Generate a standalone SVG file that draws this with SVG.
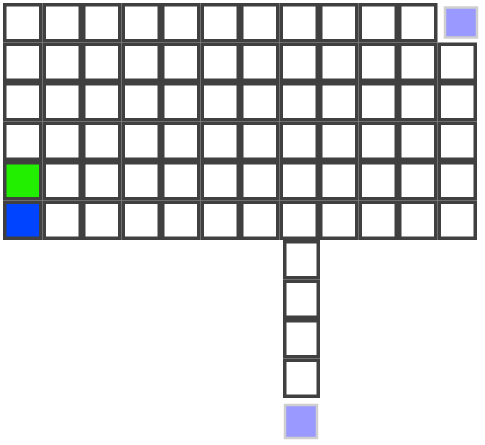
<svg xmlns="http://www.w3.org/2000/svg" width="485" height="445" viewBox="0 0 485 445">
<style>
.c{fill:#ffffff;stroke:#404040;stroke-width:3.5}
.g{fill:#22ee00;stroke:#404040;stroke-width:3.5}
.b{fill:#0044ff;stroke:#404040;stroke-width:3.5}
.lb{fill:#9999ff;stroke:#cfcfcf;stroke-width:2.5}
</style>
<defs>
<rect id="cell" width="36" height="36"/>
</defs>
<rect width="485" height="445" fill="#ffffff"/>
<g id="grid">
<g id="r0">
<g id="c0_0"><rect class="c" x="4.75" y="4.75" width="36" height="36"/></g>
<g id="c0_1"><rect class="c" x="44.25" y="4.75" width="36" height="36"/></g>
<g id="c0_2"><rect class="c" x="83.75" y="4.75" width="36" height="36"/></g>
<g id="c0_3"><rect class="c" x="123.25" y="4.75" width="36" height="36"/></g>
<g id="c0_4"><rect class="c" x="162.75" y="4.75" width="36" height="36"/></g>
<g id="c0_5"><rect class="c" x="202.25" y="4.75" width="36" height="36"/></g>
<g id="c0_6"><rect class="c" x="241.75" y="4.75" width="36" height="36"/></g>
<g id="c0_7"><rect class="c" x="281.25" y="4.75" width="36" height="36"/></g>
<g id="c0_8"><rect class="c" x="320.75" y="4.75" width="36" height="36"/></g>
<g id="c0_9"><rect class="c" x="360.25" y="4.75" width="36" height="36"/></g>
<g id="c0_10"><rect class="c" x="399.75" y="4.75" width="36" height="36"/></g>
<g id="c0_11"><rect class="lb" x="445" y="7.5" width="32" height="30"/></g>
</g>
<g id="r1">
<g id="c1_0"><rect class="c" x="4.75" y="44.25" width="36" height="36"/></g>
<g id="c1_1"><rect class="c" x="44.25" y="44.25" width="36" height="36"/></g>
<g id="c1_2"><rect class="c" x="83.75" y="44.25" width="36" height="36"/></g>
<g id="c1_3"><rect class="c" x="123.25" y="44.25" width="36" height="36"/></g>
<g id="c1_4"><rect class="c" x="162.75" y="44.25" width="36" height="36"/></g>
<g id="c1_5"><rect class="c" x="202.25" y="44.25" width="36" height="36"/></g>
<g id="c1_6"><rect class="c" x="241.75" y="44.25" width="36" height="36"/></g>
<g id="c1_7"><rect class="c" x="281.25" y="44.25" width="36" height="36"/></g>
<g id="c1_8"><rect class="c" x="320.75" y="44.25" width="36" height="36"/></g>
<g id="c1_9"><rect class="c" x="360.25" y="44.25" width="36" height="36"/></g>
<g id="c1_10"><rect class="c" x="399.75" y="44.25" width="36" height="36"/></g>
<g id="c1_11"><rect class="c" x="439.25" y="44.25" width="36" height="36"/></g>
</g>
<g id="r2">
<g id="c2_0"><rect class="c" x="4.75" y="83.75" width="36" height="36"/></g>
<g id="c2_1"><rect class="c" x="44.25" y="83.75" width="36" height="36"/></g>
<g id="c2_2"><rect class="c" x="83.75" y="83.75" width="36" height="36"/></g>
<g id="c2_3"><rect class="c" x="123.25" y="83.75" width="36" height="36"/></g>
<g id="c2_4"><rect class="c" x="162.75" y="83.75" width="36" height="36"/></g>
<g id="c2_5"><rect class="c" x="202.25" y="83.75" width="36" height="36"/></g>
<g id="c2_6"><rect class="c" x="241.75" y="83.75" width="36" height="36"/></g>
<g id="c2_7"><rect class="c" x="281.25" y="83.75" width="36" height="36"/></g>
<g id="c2_8"><rect class="c" x="320.75" y="83.75" width="36" height="36"/></g>
<g id="c2_9"><rect class="c" x="360.25" y="83.75" width="36" height="36"/></g>
<g id="c2_10"><rect class="c" x="399.75" y="83.75" width="36" height="36"/></g>
<g id="c2_11"><rect class="c" x="439.25" y="83.75" width="36" height="36"/></g>
</g>
<g id="r3">
<g id="c3_0"><rect class="c" x="4.75" y="123.25" width="36" height="36"/></g>
<g id="c3_1"><rect class="c" x="44.25" y="123.25" width="36" height="36"/></g>
<g id="c3_2"><rect class="c" x="83.75" y="123.25" width="36" height="36"/></g>
<g id="c3_3"><rect class="c" x="123.25" y="123.25" width="36" height="36"/></g>
<g id="c3_4"><rect class="c" x="162.75" y="123.25" width="36" height="36"/></g>
<g id="c3_5"><rect class="c" x="202.25" y="123.25" width="36" height="36"/></g>
<g id="c3_6"><rect class="c" x="241.75" y="123.25" width="36" height="36"/></g>
<g id="c3_7"><rect class="c" x="281.25" y="123.25" width="36" height="36"/></g>
<g id="c3_8"><rect class="c" x="320.75" y="123.25" width="36" height="36"/></g>
<g id="c3_9"><rect class="c" x="360.25" y="123.25" width="36" height="36"/></g>
<g id="c3_10"><rect class="c" x="399.75" y="123.25" width="36" height="36"/></g>
<g id="c3_11"><rect class="c" x="439.25" y="123.25" width="36" height="36"/></g>
</g>
<g id="r4">
<g id="c4_0"><rect class="g" x="4.75" y="162.75" width="36" height="36"/></g>
<g id="c4_1"><rect class="c" x="44.25" y="162.75" width="36" height="36"/></g>
<g id="c4_2"><rect class="c" x="83.75" y="162.75" width="36" height="36"/></g>
<g id="c4_3"><rect class="c" x="123.25" y="162.75" width="36" height="36"/></g>
<g id="c4_4"><rect class="c" x="162.75" y="162.75" width="36" height="36"/></g>
<g id="c4_5"><rect class="c" x="202.25" y="162.75" width="36" height="36"/></g>
<g id="c4_6"><rect class="c" x="241.75" y="162.75" width="36" height="36"/></g>
<g id="c4_7"><rect class="c" x="281.25" y="162.75" width="36" height="36"/></g>
<g id="c4_8"><rect class="c" x="320.75" y="162.75" width="36" height="36"/></g>
<g id="c4_9"><rect class="c" x="360.25" y="162.75" width="36" height="36"/></g>
<g id="c4_10"><rect class="c" x="399.75" y="162.75" width="36" height="36"/></g>
<g id="c4_11"><rect class="c" x="439.25" y="162.75" width="36" height="36"/></g>
</g>
<g id="r5">
<g id="c5_0"><rect class="b" x="4.75" y="202.25" width="36" height="36"/></g>
<g id="c5_1"><rect class="c" x="44.25" y="202.25" width="36" height="36"/></g>
<g id="c5_2"><rect class="c" x="83.75" y="202.25" width="36" height="36"/></g>
<g id="c5_3"><rect class="c" x="123.25" y="202.25" width="36" height="36"/></g>
<g id="c5_4"><rect class="c" x="162.75" y="202.25" width="36" height="36"/></g>
<g id="c5_5"><rect class="c" x="202.25" y="202.25" width="36" height="36"/></g>
<g id="c5_6"><rect class="c" x="241.75" y="202.25" width="36" height="36"/></g>
<g id="c5_7"><rect class="c" x="281.25" y="202.25" width="36" height="36"/></g>
<g id="c5_8"><rect class="c" x="320.75" y="202.25" width="36" height="36"/></g>
<g id="c5_9"><rect class="c" x="360.25" y="202.25" width="36" height="36"/></g>
<g id="c5_10"><rect class="c" x="399.75" y="202.25" width="36" height="36"/></g>
<g id="c5_11"><rect class="c" x="439.25" y="202.25" width="36" height="36"/></g>
</g>
</g>
<g id="column">
<g id="d0"><rect class="c" x="284.75" y="241.75" width="33.5" height="36"/></g>
<g id="d1"><rect class="c" x="284.75" y="281.25" width="33.5" height="36"/></g>
<g id="d2"><rect class="c" x="284.75" y="320.75" width="33.5" height="36"/></g>
<g id="d3"><rect class="c" x="284.75" y="360.25" width="33.5" height="36"/></g>
<g id="d4"><rect class="lb" x="285" y="405" width="32" height="33"/></g>
</g>
<g id="connectors"/>
</svg>
